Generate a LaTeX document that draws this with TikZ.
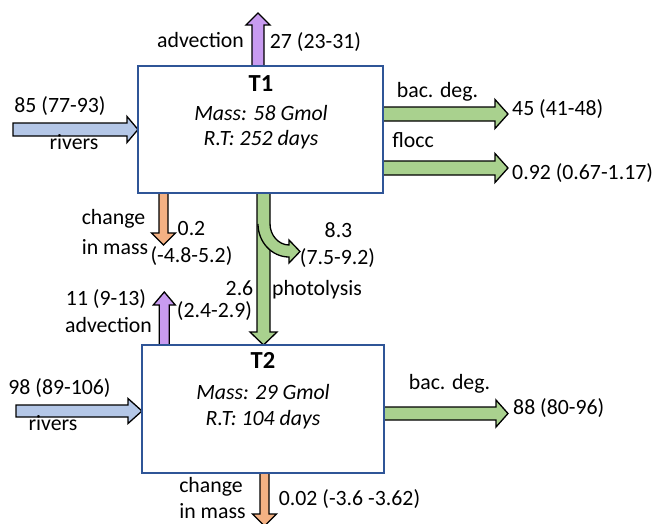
\documentclass[tikz,border=0pt]{standalone}
\usepackage{fontspec}
\setmainfont{Carlito}
\usetikzlibrary{calc}
\definecolor{boxblue}{RGB}{47,85,151}
\definecolor{rivblue}{RGB}{180,199,231}
\definecolor{grn}{RGB}{169,209,142}
\definecolor{purp}{RGB}{200,155,240}
\definecolor{orng}{RGB}{244,177,131}
\tikzset{
  lbl/.style={font=\fontsize{21.8}{25}\selectfont, inner sep=0pt, text height=1.5ex, text depth=0.25ex},
  lblb/.style={lbl, font=\fontsize{24.5}{28}\selectfont\bfseries},
  lbli/.style={lbl, font=\fontsize{21.8}{25}\selectfont\itshape},
  boxshape/.style={rectangle, outer sep=0pt, inner sep=0pt},
  boxline/.style={draw=boxblue, line width=1.8pt},
  blk/.style={draw=black, line width=1.3pt, line join=miter},
}
\newcommand\rblk[6]{\draw[blk,fill=#3] let \p1=(#1),\p2=(#2) in
  (\x1,\y1+#4) -- (\x2-#6,\y1+#4) -- (\x2-#6,\y1+#5) -- (\x2,\y1) --
  (\x2-#6,\y1-#5) -- (\x2-#6,\y1-#4) -- (\x1,\y1-#4) -- cycle;}
\newcommand\ublk[6]{\draw[blk,fill=#3] let \p1=(#1),\p2=(#2) in
  (\x1-#4,\y1) -- (\x1-#4,\y2-#6) -- (\x1-#5,\y2-#6) -- (\x1,\y2) --
  (\x1+#5,\y2-#6) -- (\x1+#4,\y2-#6) -- (\x1+#4,\y1) -- cycle;}
\newcommand\dblk[6]{\draw[blk,fill=#3] let \p1=(#1),\p2=(#2) in
  (\x1-#4,\y1) -- (\x1-#4,\y2+#6) -- (\x1-#5,\y2+#6) -- (\x1,\y2) --
  (\x1+#5,\y2+#6) -- (\x1+#4,\y2+#6) -- (\x1+#4,\y1) -- cycle;}
\begin{document}
\begin{tikzpicture}[x=1pt,y=-1pt]
\clip (0,0) rectangle (662,523);
\fill[white] (0,0) rectangle (662,523);
% boxes (shapes)
\node[boxshape, minimum width=245pt, minimum height=127pt] (T1) at (260.5,129.5) {};
\node[boxshape, minimum width=242pt, minimum height=128pt] (T2) at (263,409) {};
% free ends
\coordinate (advTtip) at (258,13);
\coordinate (riv1s) at (13,129.5);
\coordinate (bd1e) at (508,114);
\coordinate (fl1e) at (508,168);
\coordinate (cm1e) at (163.5,245);
\coordinate (adv2e) at (164.3,292);
\coordinate (riv2s) at (16,411);
\coordinate (bd2e) at (508,413.5);
\coordinate (cm2e) at (264.5,526);
% arrows
\ublk{[xshift=-2.5pt]T1.north}{advTtip}{purp}{6pt}{12pt}{12pt}
\rblk{riv1s}{T1.west}{rivblue}{6.5pt}{13pt}{11pt}
\rblk{[yshift=15.5pt]T1.east}{bd1e}{grn}{7pt}{14.5pt}{13pt}
\rblk{[yshift=-38.5pt]T1.east}{fl1e}{grn}{7pt}{14.5pt}{13pt}
\dblk{[xshift=-97pt]T1.south}{cm1e}{orng}{4.5pt}{12pt}{12pt}
\dblk{[xshift=3pt]T1.south}{[xshift=0.5pt]T2.north}{grn}{6.5pt}{13.5pt}{13pt}
% photolysis branch
\fill[grn] (258,224) .. controls (258,242) and (271.9,257) .. (289,257) -- (289,263) -- (300,251.5) -- (289,240) -- (289,245) .. controls (278.5,245) and (270,235) .. (270,224) -- cycle;
\draw[blk] (258,224) .. controls (258,242) and (271.9,257) .. (289,257) -- (289,263) -- (300,251.5) -- (289,240) -- (289,245) .. controls (278.5,245) and (270,235) .. (270,224);
\ublk{[xshift=-98.7pt]T2.north}{adv2e}{purp}{5pt}{11pt}{13pt}
\rblk{riv2s}{[yshift=-2pt]T2.west}{rivblue}{6pt}{12.5pt}{14pt}
\rblk{[yshift=-4.5pt]T2.east}{bd2e}{grn}{6.5pt}{13.5pt}{12pt}
\dblk{[xshift=1.5pt]T2.south}{cm2e}{orng}{4.5pt}{12pt}{12pt}
% box outlines
\draw[boxline] (T1.north west) rectangle (T1.south east);
\draw[boxline] (T2.north west) rectangle (T2.south east);
% box texts
\node[lblb] (t1a) at (261,89) {T1};
\node[lbli] (t1b) at (261,118) {Mass: 58 Gmol};
\node[lbli] (t1c) at (261,143) {R.T: 252 days};
\node[lblb] (t2a) at (263,366) {T2};
\node[lbli] (t2b) at (263,397) {Mass: 29 Gmol};
\node[lbli] (t2c) at (263,423) {R.T: 104 days};
% labels
\node[lbl] (l1) at (200.5,45) {advection};
\node[lbl] (l2) at (315.5,46) {27 (23-31)};
\node[lbl] (l3) at (60,110) {85 (77-93)};
\node[lbl] (l4) at (74,147) {rivers};
\node[lbl] (l5) at (437.5,95) {bac. deg.};
\node[lbl,anchor=west] (l6) at (512,113) {45 (41-48)};
\node[lbl] (l7) at (413,145) {flocc};
\node[lbl,anchor=west] (l8) at (512,177) {0.92 (0.67-1.17)};
\node[lbl] (l9) at (113.5,222) {change};
\node[lbl] (l10) at (115,252) {in mass};
\node[lbl] (l11) at (191.5,233) {0.2};
\node[lbl] (l12) at (191.5,260) {(-4.8-5.2)};
\node[lbl] (l13) at (338.5,235) {8.3};
\node[lbl] (l14) at (337.5,262) {(7.5-9.2)};
\node[lbl] (l15) at (317,293) {photolysis};
\node[lbl] (l16) at (239.5,293) {2.6};
\node[lbl] (l17) at (214.5,315) {(2.4-2.9)};
\node[lbl] (l18) at (106,303) {11 (9-13)};
\node[lbl] (l19) at (108.5,330) {advection};
\node[lbl] (l20) at (59.5,392) {98 (89-106)};
\node[lbl] (l21) at (53,428) {rivers};
\node[lbl] (l22) at (449.5,387) {bac. deg.};
\node[lbl,anchor=west] (l23) at (513,412) {88 (80-96)};
\node[lbl] (l24) at (211,490) {change};
\node[lbl] (l25) at (212.5,516) {in mass};
\node[lbl] (l26) at (349.5,503) {0.02 (-3.6 -3.62)};
\end{tikzpicture}
\end{document}
